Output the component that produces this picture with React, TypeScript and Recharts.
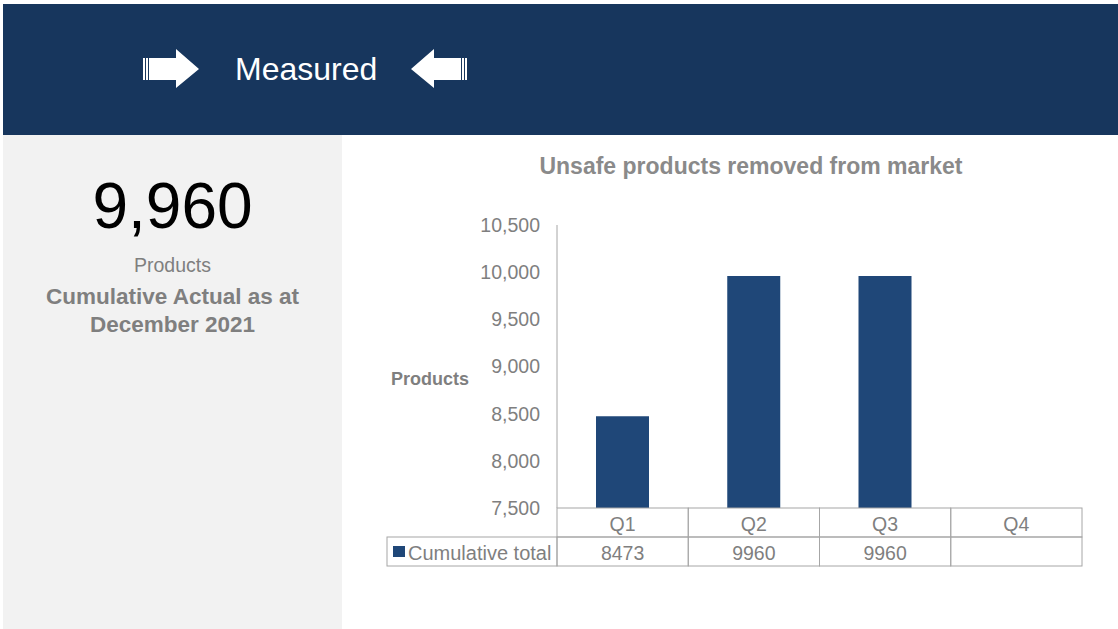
import React from 'react';
import { BarChart, Bar, XAxis, YAxis } from 'recharts';

const quarters = ['Q1', 'Q2', 'Q3', 'Q4'];
const cumulativeTotal: (number | null)[] = [8473, 9960, 9960, null];
const yTicks = [7500, 8000, 8500, 9000, 9500, 10000, 10500];
const seriesName = 'Cumulative total';
const headlineValue = 9960;
const headlineUnit = 'Products';
const headlineCaption = ['Cumulative Actual as at', 'December 2021'];
const chartTitle = 'Unsafe products removed from market';
const yAxisTitle = 'Products';
const bannerText = 'Measured';

const data = quarters.map((q, i) => ({ quarter: q, value: cumulativeTotal[i] }));

const FONT = '"Liberation Sans", Arial, Helvetica, sans-serif';
const W = 1118;
const H = 629;
const PLOT_LEFT = 557;
const PLOT_RIGHT = 1082;
const PLOT_TOP = 225;
const PLOT_BOTTOM = 508;
const ROW_H = 29;
const Y_AXIS_W = 100;
const X_AXIS_H = ROW_H * 2;
const LEGEND_W = 170;
const BAND = (PLOT_RIGHT - PLOT_LEFT) / quarters.length;
const GRID = '#a6a6a6';
const TEXT_GRAY = '#7f7f7f';
const BAR = '#1F4778';
const NAVY = '#17365D';

const TableTick = (props: any) => {
  const { x, y, payload } = props;
  const idx = payload.index;
  const v = cumulativeTotal[idx];
  const left = x - BAND / 2;
  return (
    <g>
      <rect x={left} y={y} width={BAND} height={ROW_H} fill="none" stroke={GRID} strokeWidth={1} />
      <rect x={left} y={y + ROW_H} width={BAND} height={ROW_H} fill="none" stroke={GRID} strokeWidth={1} />
      <text x={x} y={y + ROW_H / 2 + 1} textAnchor="middle" dominantBaseline="central" fill={TEXT_GRAY} fontSize={19.5} fontFamily={FONT}>
        {payload.value}
      </text>
      <text x={x} y={y + ROW_H * 1.5 + 1} textAnchor="middle" dominantBaseline="central" fill={TEXT_GRAY} fontSize={19.5} fontFamily={FONT}>
        {v == null ? '' : String(v)}
      </text>
      {idx === 0 && (
        <g>
          <rect x={left - LEGEND_W} y={y + ROW_H} width={LEGEND_W} height={ROW_H} fill="none" stroke={GRID} strokeWidth={1} />
          <rect x={left - LEGEND_W + 6} y={y + ROW_H + 9} width={12} height={11} fill={BAR} />
          <text x={left - LEGEND_W + 21} y={y + ROW_H * 1.5 + 1} dominantBaseline="central" fill={TEXT_GRAY} fontSize={20} fontFamily={FONT}>
            {seriesName}
          </text>
        </g>
      )}
    </g>
  );
};

const RightArrow = ({ x, y, flip }: { x: number; y: number; flip?: boolean }) => (
  <svg
    style={{ position: 'absolute', left: x, top: y, transform: flip ? 'scaleX(-1)' : undefined }}
    width={58}
    height={40}
    viewBox="0 0 58 40"
  >
    <rect x={1} y={9} width={2} height={22} fill="#fff" />
    <rect x={4} y={9} width={2} height={22} fill="#fff" />
    <polygon points="7,9 34,9 34,0 57,20 34,39 34,31 7,31" fill="#fff" />
  </svg>
);

export default function App() {
  return (
    <div style={{ position: 'fixed', left: 0, top: 0, width: W, height: H, background: '#fff', fontFamily: FONT, overflow: 'hidden' }}>
      <div style={{ position: 'absolute', left: 3, top: 4, width: W - 3, height: 131, background: NAVY }} />
      <RightArrow x={142} y={49} />
      <div style={{ position: 'absolute', left: 235, top: 48, height: 42, lineHeight: '42px', fontSize: 32, color: '#fff' }}>{bannerText}</div>
      <RightArrow x={410} y={49} flip />
      <div style={{ position: 'absolute', left: 3, top: 135, width: 339, height: H - 135, background: '#f2f2f2' }} />
      <div style={{ position: 'absolute', left: 3, width: 339, top: 170, textAlign: 'center', fontSize: 64, lineHeight: '72px', color: '#000' }}>
        {headlineValue.toLocaleString('en-US')}
      </div>
      <div style={{ position: 'absolute', left: 3, width: 339, top: 252, textAlign: 'center', fontSize: 19.5, lineHeight: '26px', color: TEXT_GRAY }}>
        {headlineUnit}
      </div>
      <div style={{ position: 'absolute', left: 3, width: 339, top: 283, textAlign: 'center', fontSize: 22.5, lineHeight: '28px', fontWeight: 'bold', color: TEXT_GRAY }}>
        {headlineCaption.map((l) => (
          <div key={l}>{l}</div>
        ))}
      </div>
      <div style={{ position: 'absolute', left: 340, width: 822, top: 152, textAlign: 'center', fontSize: 23, lineHeight: '28px', fontWeight: 'bold', color: '#8a8a8a' }}>
        {chartTitle}
      </div>
      <div style={{ position: 'absolute', left: 391, top: 368, fontSize: 18, lineHeight: '22px', fontWeight: 'bold', color: TEXT_GRAY }}>
        {yAxisTitle}
      </div>
      <div style={{ position: 'absolute', left: 0, top: 0 }}>
        <BarChart
          width={W}
          height={H}
          data={data}
          margin={{ top: PLOT_TOP, right: W - PLOT_RIGHT, bottom: H - PLOT_BOTTOM - X_AXIS_H, left: PLOT_LEFT - Y_AXIS_W }}
          barSize={53}
        >
          <XAxis
            dataKey="quarter"
            axisLine={false}
            tickLine={false}
            tickSize={0}
            tickMargin={0}
            height={X_AXIS_H}
            interval={0}
            tick={(p: any) => <TableTick {...p} />}
          />
          <YAxis
            width={Y_AXIS_W}
            domain={[7500, 10500]}
            ticks={yTicks}
            allowDataOverflow
            axisLine={{ stroke: GRID, strokeWidth: 1 }}
            tickLine={false}
            tickSize={6}
            tickMargin={11}
            tick={{ fill: TEXT_GRAY, fontSize: 19.5, fontFamily: FONT }}
            tickFormatter={(v: number) => v.toLocaleString('en-US')}
          />
          <Bar dataKey="value" fill={BAR} isAnimationActive={false} />
        </BarChart>
      </div>
    </div>
  );
}
